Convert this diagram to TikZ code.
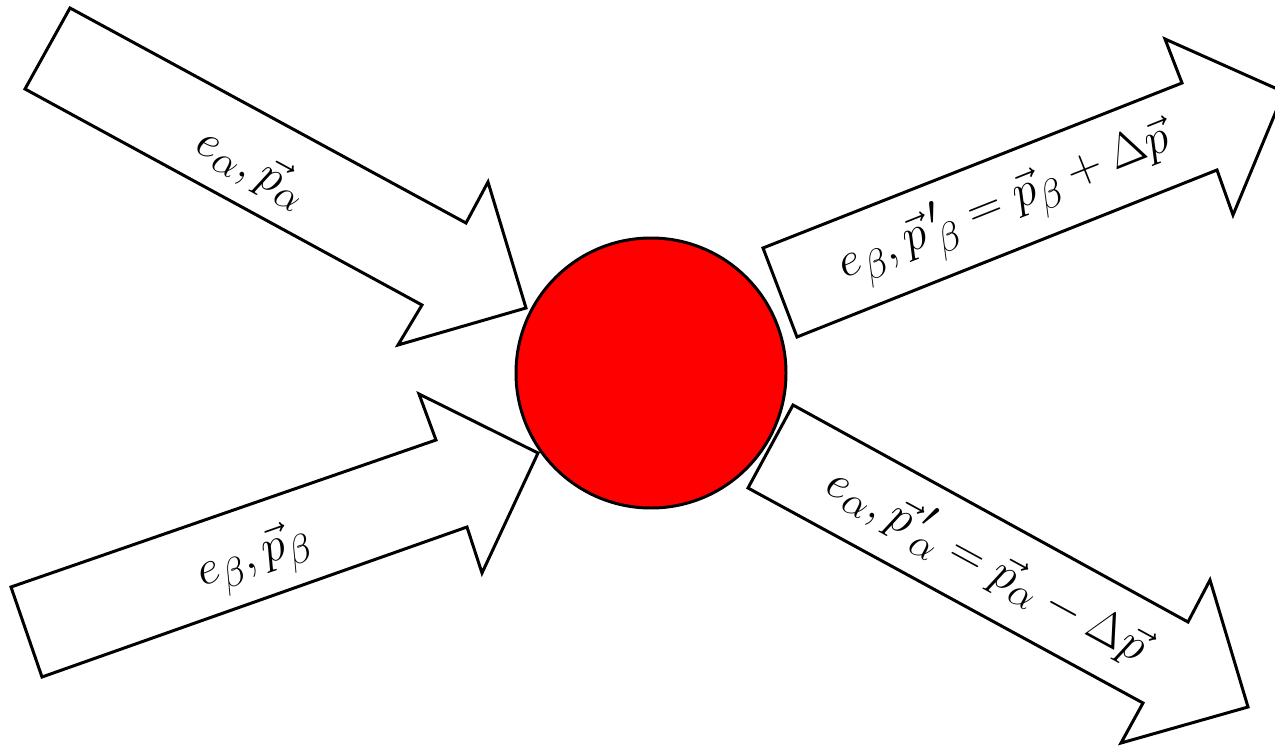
\documentclass[tikz,border=0pt]{standalone}
\usepackage{tikz}
\usetikzlibrary{positioning}
\tikzstyle{blockarrow} = [draw, fill=white, line width=1.7pt, line join=miter]
\tikzstyle{lbl} = [font={\fontsize{24.88}{30}\selectfont}, inner sep=0pt, scale=1.1]

\begin{document}
\begin{tikzpicture}[
      x=0.02cm,
      y=-0.02cm
    ]
      \useasboundingbox (0,0) rectangle (1275,747);

      % incoming arrows
      \path[blockarrow] (25,89) -- (70,8) -- (466,223) -- (488,182)
        -- (526,308) -- (398,345) -- (422,305) -- cycle;
      \path[blockarrow] (11,587) -- (436,440) -- (419,394) -- (538,453)
        -- (482,573) -- (467,527) -- (42,677) -- cycle;

      % outgoing arrows
      \path[blockarrow] (763,248) -- (1182,83) -- (1165,39) -- (1284,92)
        -- (1233,215) -- (1217,170) -- (797,337) -- cycle;
      \path[blockarrow] (793,405) -- (1188,622) -- (1210,580) -- (1248,707)
        -- (1121,743) -- (1143,703) -- (748,488) -- cycle;

      \node[circle, draw, line width=1.7pt, fill=red, minimum size=270*0.02cm,
        inner sep=0pt] (hit) at (651,373) {};

      \node[lbl, rotate=-28.5] (inA)  at (252,168)  {$e_\alpha,\vec{p}_\alpha$};
      \node[lbl, rotate=19.3]  (inB)  at (255,560)  {$e_\beta,\vec{p}_\beta$};
      \node[lbl, rotate=21.7]  (outB) at (1005,205) {$e_\beta,\vec{p}\,'_\beta=\vec{p}_\beta+\Delta\vec{p}$};
      \node[lbl, rotate=-28.6] (outA) at (987,565)  {$e_\alpha,\vec{p}\,'_\alpha=\vec{p}_\alpha-\Delta\vec{p}$};
    \end{tikzpicture}
\end{document}
